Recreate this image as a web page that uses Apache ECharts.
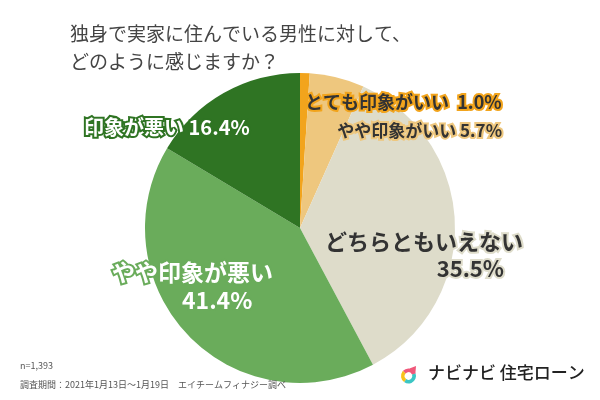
<!DOCTYPE html>
<html><head><meta charset="utf-8">
<script src="https://cdn.jsdelivr.net/npm/echarts@6/dist/echarts.min.js"></script>
<style>html,body{margin:0;padding:0;background:#fff}#c{width:600px;height:400px}</style>
</head><body><div id="c"></div>
<script>
const categories = ['とても印象がいい','やや印象がいい','どちらともいえない','やや印象が悪い','印象が悪い'];
const values = [1.0, 5.7, 35.5, 41.4, 16.4];
const colors = ['#F2A41C','#EEC77E','#DEDCCA','#6AAC5B','#2F7423'];
const titleLines = ['独身で実家に住んでいる男性に対して、','どのように感じますか？'];
const noteN = 'n=1,393';
const notePeriod = '調査期間：2021年1月13日～1月19日　エイチームフィナジー調べ';
const brand = 'ナビナビ 住宅ローン';

const FONT = '"Noto Sans CJK JP", sans-serif';
// label placement (pixels) and styles
const labelPos = [
  {x:305, y:102, align:'left'},
  {x:502, y:131, align:'right'},
  {x:523, y:255, align:'right'},
  {x:112, y:286, align:'left'},
  {x:84,  y:127, align:'left'}
];
const labelStyles = [
  {color:'#333', border:'#F2A41C', size:18, twoLine:false, gap:'  '},
  {color:'#333', border:'#EEC77E', size:17, twoLine:false, gap:' '},
  {color:'#333', border:'#DEDCCA', size:22, twoLine:true, pad:[0,19,0,0]},
  {color:'#fff', border:'#6AAC5B', size:23, twoLine:true, pad:[0,0,0,70]},
  {color:'#fff', border:'#2F7423', size:20, twoLine:false, gap:' '}
];

const data = categories.map((n,i)=>{
  const s = labelStyles[i];
  const pct = values[i].toFixed(1)+'%';
  const fmt = s.twoLine ? `{n|${n}}\n{p|${pct}}` : `{n|${n}${s.gap}${pct}}`;
  return {
    name:n, value:values[i],
    itemStyle:{color:colors[i]},
    label:{
      show:true, formatter:fmt,
      rich:{
        n:{fontSize:s.size, fontWeight:'bold', color:s.color, fontFamily:FONT,
           textBorderColor:s.border, textBorderWidth:4, lineHeight:s.size+5},
        p:{fontSize:s.size, fontWeight:'bold', color:s.color, fontFamily:FONT,
           textBorderColor:s.border, textBorderWidth:4, lineHeight:s.size+5,
           padding:s.pad||0}
      }
    }
  };
});

const cx = 408.5, cy = 376;
const chart = echarts.init(document.getElementById('c'));
chart.setOption({
  animation:false,
  backgroundColor:'#fff',
  title:{
    text: titleLines.join('\n'),
    left:65, top:15,
    textStyle:{fontSize:19, fontWeight:'normal', color:'#444', fontFamily:FONT, lineHeight:28}
  },
  series:[{
    type:'pie',
    center:[300,228], radius:[0,155],
    startAngle:90, clockwise:true,
    avoidLabelOverlap:false,
    label:{position:'inside'},
    labelLine:{show:false},
    labelLayout:function(p){
      const lp = labelPos[p.dataIndex];
      return {x:lp.x, y:lp.y, align:lp.align, verticalAlign:'middle'};
    },
    itemStyle:{borderWidth:0},
    data:data
  }],
  graphic:[
    {type:'text', z:100, left:20, top:361, style:{text:noteN, fontSize:9, fill:'#555', fontFamily:FONT}},
    {type:'text', z:100, left:20, top:380, style:{text:notePeriod, fontSize:9, fill:'#555', fontFamily:FONT}},
    {type:'sector', z:100, shape:{cx:cx, cy:cy, r:7.5, r0:3.8, startAngle:-0.4, endAngle:2.2}, style:{fill:'#3CC6C4'}},
    {type:'sector', z:100, shape:{cx:cx, cy:cy, r:7.5, r0:3.8, startAngle:2.2, endAngle:3.9}, style:{fill:'#F7C21C'}},
    {type:'sector', z:100, shape:{cx:cx, cy:cy, r:7.5, r0:3.8, startAngle:3.9, endAngle:5.9}, style:{fill:'#F0587A'}},
    {type:'polygon', z:100, shape:{points:[[cx+1,cy-7.4],[cx+7.5,cy-10],[cx+6.9,cy-2.8],[cx+3.5,cy-2.2]]}, style:{fill:'#F0587A'}},
    {type:'text', z:100, left:428, top:364, style:{text:brand, fontSize:17, fill:'#222', fontFamily:FONT, fontWeight:500}}
  ]
});
</script></body></html>
